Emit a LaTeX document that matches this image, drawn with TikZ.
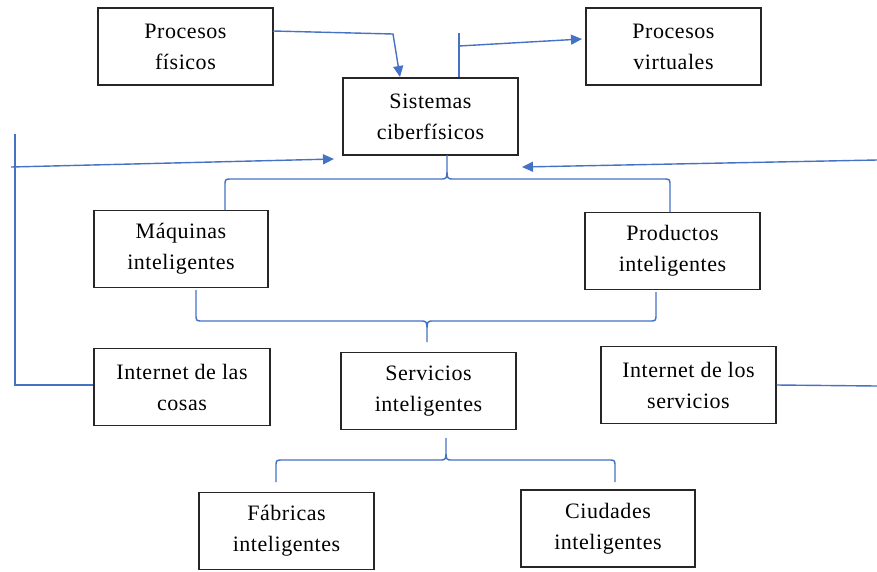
\documentclass[tikz,border=0pt]{standalone}
\usepackage{fontspec}
\setmainfont{Liberation Serif}[LetterSpace=2.5]
\usetikzlibrary{arrows.meta}
\definecolor{lineblue}{HTML}{4472C4}
\tikzset{
  box/.style={draw=black!85, line width=1.3pt, minimum width=175pt, minimum height=77pt, inner sep=0pt, align=center, font=\fontsize{22}{31}\selectfont},
  link/.style={draw=lineblue, line width=1.4pt},
  arr/.style={link, -{Triangle[length=11pt,width=10pt]}},
}
\begin{document}
\begin{tikzpicture}[x=1pt,y=-1pt]
\useasboundingbox (0,0) rectangle (877,571);
\node[box] (pf) at (185.5,46.5) {Procesos\\físicos};
\node[box] (pv) at (673.5,46.5) {Procesos\\virtuales};
\node[box] (sis) at (430.5,116.5) {Sistemas\\ciberfísicos};
\node[box, minimum width=174pt] (maq) at (181,249) {Máquinas\\inteligentes};
\node[box] (prod) at (672.5,251) {Productos\\inteligentes};
\node[box, minimum width=176pt] (cosas) at (182,387) {Internet de las\\cosas};
\node[box] (serv) at (428.5,391) {Servicios\\inteligentes};
\node[box] (iserv) at (688.5,385) {Internet de los\\servicios};
\node[box] (fab) at (286.5,531) {Fábricas\\inteligentes};
\node[box, minimum width=174pt] (ciud) at (608,528.5) {Ciudades\\inteligentes};
% top arrows
\coordinate (pfout) at (273,31);
\coordinate (pfbend) at (393,34);
\draw[arr] (pfout) -- (pfbend) -- (400,77);
\coordinate (sistop) at (459,77);
\coordinate (stub) at (459,33);
\draw[link] (sistop) -- (stub);
\draw[arr] (459,46) -- (582,39);
% left loop
\coordinate (lc) at (15,385);
\coordinate (ltop) at (15,134);
\draw[link] (cosas.west |- lc) -- (lc) -- (ltop);
\draw[arr] (11,167) -- (334,159);
% right
\draw[arr] (877,160) -- (522,167);
\draw[link] (iserv.east) -- (877,386);
% brace 1
\draw[link] (225,210) -- (225,186) .. controls (225,179) .. (232,179) -- (440,179) .. controls (447,179) .. (447,168) -- (447,155)
  -- (447,168) .. controls (447,179) .. (454,179) -- (663,179) .. controls (670,179) .. (670,186) -- (670,212);
% brace 2
\draw[link] (196,290) -- (196,314) .. controls (196,321) .. (203,321) -- (420,321) .. controls (427,321) .. (427,332) -- (427,342)
  -- (427,332) .. controls (427,321) .. (434,321) -- (649,321) .. controls (656,321) .. (656,314) -- (656,292);
% brace 3
\draw[link] (276,482) -- (276,467) .. controls (276,460) .. (283,460) -- (439,460) .. controls (446,460) .. (446,450) -- (446,438)
  -- (446,450) .. controls (446,460) .. (453,460) -- (608,460) .. controls (615,460) .. (615,467) -- (615,482);
\end{tikzpicture}
\end{document}
